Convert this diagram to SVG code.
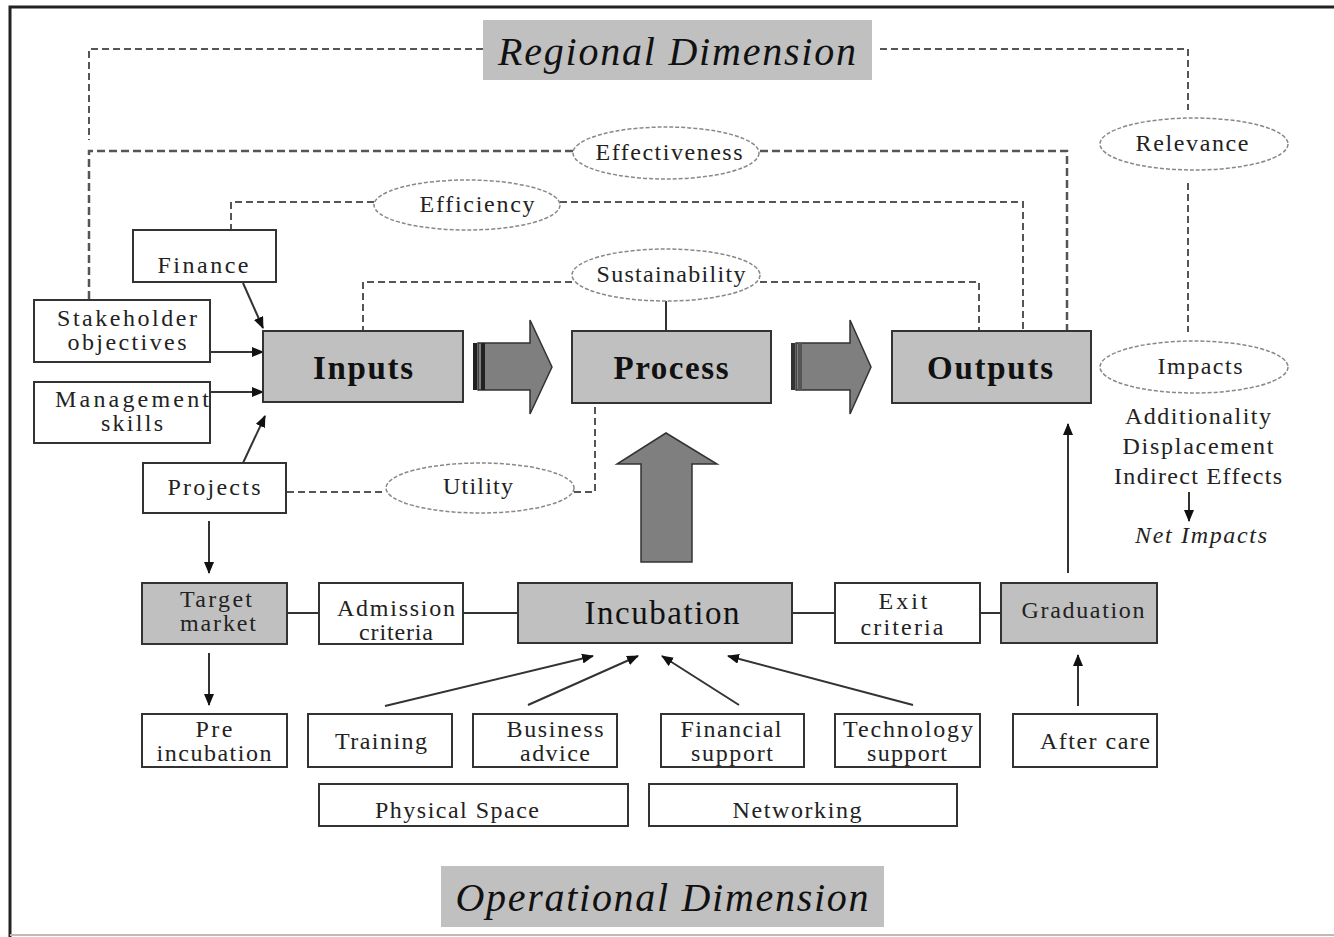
<svg xmlns="http://www.w3.org/2000/svg" width="1334" height="937" viewBox="0 0 1334 937">
<defs>
<marker id="ah" viewBox="0 0 12 10" refX="11" refY="5" markerWidth="12" markerHeight="10" markerUnits="userSpaceOnUse" orient="auto">
<path d="M0,0 L12,5 L0,10 Z" fill="#111"/>
</marker>
<style>
.t{font-family:"Liberation Serif",serif;font-size:24px;fill:#222;text-anchor:middle}
.big{font-family:"Liberation Serif",serif;font-size:33px;font-weight:bold;fill:#111;text-anchor:middle}
.inc{font-family:"Liberation Serif",serif;font-size:33px;fill:#111;text-anchor:middle}
.dim{font-family:"Liberation Serif",serif;font-size:40px;font-style:italic;fill:#111;text-anchor:middle}
.it{font-family:"Liberation Serif",serif;font-size:24px;font-style:italic;fill:#222;text-anchor:middle}
.box{fill:#fff;stroke:#333;stroke-width:2}
.gbox{fill:#c0c0c0;stroke:#333;stroke-width:2}
.ell{fill:#fff;stroke:#888;stroke-width:1.5;stroke-dasharray:4 2}
.dash{fill:none;stroke:#555;stroke-width:2;stroke-dasharray:7 4}
.dash2{fill:none;stroke:#555;stroke-width:2.5;stroke-dasharray:8 4}
.ln{fill:none;stroke:#333;stroke-width:2}
.ar{fill:none;stroke:#333;stroke-width:2;marker-end:url(#ah)}
.fat{fill:#7f7f7f;stroke:#333;stroke-width:1.5}
</style>
</defs>
<rect width="1334" height="937" fill="#fff"/>
<path d="M10,937 L10,7 L1334,7" fill="none" stroke="#222" stroke-width="3"/>
<line x1="10" y1="935" x2="1334" y2="935" stroke="#bbb" stroke-width="2"/>

<g id="connectors">
<path class="dash" d="M483,49 L89,49 L89,140"/>
<path class="dash" d="M880,49 L1188,49 L1188,110"/>
<path class="dash" d="M1188,183 L1188,332"/>
<path class="dash2" d="M573,151 L89,151 L89,300"/>
<path class="dash2" d="M760,151 L1067,151 L1067,331"/>
<path class="dash" d="M374,202 L231,202 L231,230"/>
<path class="dash" d="M560,202 L1023,202 L1023,331"/>
<path class="dash" d="M572,282 L363,282 L363,331"/>
<path class="dash" d="M760,282 L979,282 L979,331"/>
<line class="ln" x1="666" y1="301" x2="666" y2="331"/>
<path class="dash" d="M287,492 L386,492"/>
<path class="dash" d="M574,492 L595,492 L595,403"/>
<line class="ar" x1="243" y1="283" x2="263" y2="328"/>
<line class="ar" x1="210" y1="352" x2="263" y2="352"/>
<line class="ar" x1="210" y1="392" x2="263" y2="392"/>
<line class="ar" x1="243" y1="463" x2="265" y2="416"/>
<line class="ar" x1="209" y1="521" x2="209" y2="573"/>
<line class="ar" x1="209" y1="653" x2="209" y2="705"/>
<line class="ln" x1="287" y1="613" x2="319" y2="613"/>
<line class="ln" x1="463" y1="613" x2="518" y2="613"/>
<line class="ln" x1="792" y1="613" x2="835" y2="613"/>
<line class="ln" x1="980" y1="613" x2="1001" y2="613"/>
<line class="ar" x1="1068" y1="573" x2="1068" y2="424"/>
<line class="ar" x1="1078" y1="706" x2="1078" y2="655"/>
<line class="ar" x1="385" y1="706" x2="593" y2="656"/>
<line class="ar" x1="528" y1="705" x2="638" y2="656"/>
<line class="ar" x1="739" y1="705" x2="662" y2="656"/>
<line class="ar" x1="913" y1="705" x2="728" y2="656"/>
<line class="ar" x1="1189" y1="492" x2="1189" y2="521"/>
<path class="fat" d="M478,343 L530,343 L530,320 L552,367 L530,414 L530,390 L478,390 Z"/>
<rect x="473" y="343" width="4" height="47" fill="#222"/>
<rect x="481" y="343" width="4" height="47" fill="#222"/>
<path class="fat" d="M796,343 L850,343 L850,320 L871,367 L850,414 L850,390 L796,390 Z"/>
<rect x="791" y="343" width="4" height="47" fill="#333"/>
<rect x="798" y="343" width="4" height="47" fill="#555"/>
<path class="fat" d="M641,562 L641,464 L617,464 L666,433 L717,464 L692,464 L692,562 Z"/>
</g>

<g id="regional"><rect x="483" y="20" width="389" height="60" fill="#c0c0c0"/><text class="dim" x="677" y="65" textLength="358">Regional Dimension</text></g>
<g id="operational"><rect x="441" y="866" width="443" height="61" fill="#c0c0c0"/><text class="dim" x="662" y="911" textLength="413">Operational Dimension</text></g>

<g id="effectiveness"><ellipse class="ell" cx="666" cy="153" rx="93" ry="26"/><text class="t" x="669" y="160" textLength="147">Effectiveness</text></g>
<g id="efficiency"><ellipse class="ell" cx="467" cy="205" rx="93" ry="25"/><text class="t" x="477" y="212" textLength="115">Efficiency</text></g>
<g id="sustainability"><ellipse class="ell" cx="666" cy="275" rx="94" ry="26"/><text class="t" x="671" y="282" textLength="149">Sustainability</text></g>
<g id="relevance"><ellipse class="ell" cx="1194" cy="144" rx="94" ry="26"/><text class="t" x="1192" y="151" textLength="113">Relevance</text></g>
<g id="impacts"><ellipse class="ell" cx="1194" cy="367" rx="94" ry="26"/><text class="t" x="1200" y="374" textLength="85">Impacts</text></g>
<g id="utility"><ellipse class="ell" cx="480" cy="488" rx="94" ry="25"/><text class="t" x="478" y="494" textLength="70">Utility</text></g>

<g id="impact-list">
<text class="t" x="1198" y="424" textLength="146">Additionality</text>
<text class="t" x="1198" y="454" textLength="151">Displacement</text>
<text class="t" x="1198" y="484" textLength="168">Indirect Effects</text>
<text class="it" x="1201" y="543" textLength="132">Net Impacts</text>
</g>

<g id="finance"><rect class="box" x="133" y="230" width="143" height="52"/><text class="t" x="203" y="273" textLength="91">Finance</text></g>
<g id="stakeholder"><rect class="box" x="34" y="300" width="176" height="62"/><text class="t" x="127" y="326" textLength="140">Stakeholder</text><text class="t" x="127" y="350" textLength="119">objectives</text></g>
<g id="management"><rect class="box" x="34" y="382" width="176" height="61"/><text class="t" x="132" y="407" textLength="154">Management</text><text class="t" x="132" y="431" textLength="62">skills</text></g>
<g id="projects"><rect class="box" x="143" y="463" width="143" height="50"/><text class="t" x="214" y="495" textLength="93">Projects</text></g>

<g id="inputs"><rect class="gbox" x="263" y="331" width="200" height="71"/><text class="big" x="363" y="379" textLength="100">Inputs</text></g>
<g id="process"><rect class="gbox" x="572" y="331" width="199" height="72"/><text class="big" x="671" y="379" textLength="115">Process</text></g>
<g id="outputs"><rect class="gbox" x="892" y="331" width="199" height="72"/><text class="big" x="990" y="379" textLength="126">Outputs</text></g>

<g id="target"><rect class="gbox" x="142" y="583" width="145" height="61"/><text class="t" x="216" y="607" textLength="72">Target</text><text class="t" x="218" y="631" textLength="76">market</text></g>
<g id="admission"><rect class="box" x="319" y="583" width="144" height="61"/><text class="t" x="396" y="616" textLength="118">Admission</text><text class="t" x="396" y="640" textLength="74">criteria</text></g>
<g id="incubation"><rect class="gbox" x="518" y="583" width="274" height="60"/><text class="inc" x="662" y="624" textLength="155">Incubation</text></g>
<g id="exit"><rect class="box" x="835" y="583" width="145" height="60"/><text class="t" x="903" y="609" textLength="49">Exit</text><text class="t" x="902" y="635" textLength="83">criteria</text></g>
<g id="graduation"><rect class="gbox" x="1001" y="583" width="156" height="60"/><text class="t" x="1083" y="618" textLength="123">Graduation</text></g>

<g id="pre"><rect class="box" x="142" y="714" width="145" height="53"/><text class="t" x="214" y="737" textLength="37">Pre</text><text class="t" x="214" y="761" textLength="115">incubation</text></g>
<g id="training"><rect class="box" x="308" y="714" width="144" height="53"/><text class="t" x="381" y="749" textLength="92">Training</text></g>
<g id="business"><rect class="box" x="473" y="714" width="144" height="53"/><text class="t" x="555" y="737" textLength="97">Business</text><text class="t" x="555" y="761" textLength="70">advice</text></g>
<g id="financial"><rect class="box" x="661" y="714" width="143" height="53"/><text class="t" x="731" y="737" textLength="101">Financial</text><text class="t" x="732" y="761" textLength="82">support</text></g>
<g id="technology"><rect class="box" x="835" y="714" width="145" height="53"/><text class="t" x="908" y="737" textLength="130">Technology</text><text class="t" x="907" y="761" textLength="80">support</text></g>
<g id="aftercare"><rect class="box" x="1013" y="714" width="144" height="53"/><text class="t" x="1095" y="749" textLength="110">After care</text></g>
<g id="physical"><rect class="box" x="319" y="784" width="309" height="42"/><text class="t" x="457" y="818" textLength="164">Physical Space</text></g>
<g id="networking"><rect class="box" x="649" y="784" width="308" height="42"/><text class="t" x="797" y="818" textLength="129">Networking</text></g>
</svg>
